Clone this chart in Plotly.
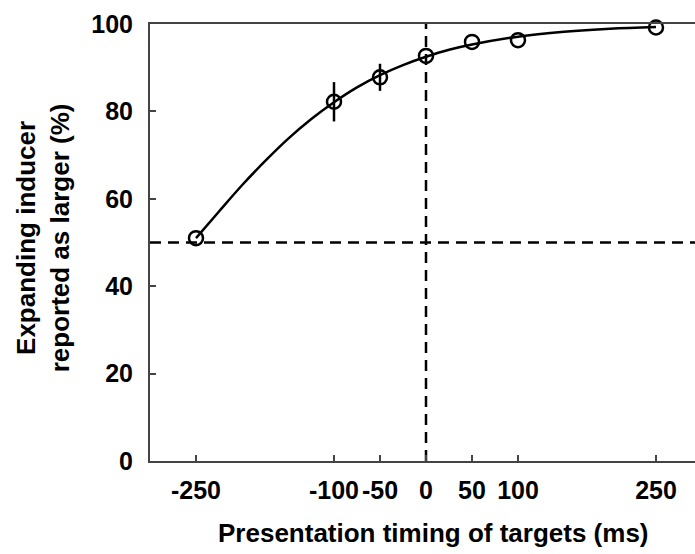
import plotly.graph_objects as go

# Observed proportions (mean and error) at each target timing
timing_ms = [-250, -100, -50, 0, 50, 100, 250]
pct_larger = [51.0, 82.2, 87.8, 92.7, 95.9, 96.3, 99.2]
pct_err = [0, 4.5, 3.1, 0, 0, 0, 0]

# Fitted psychometric curve
fit_x = [-250, -225, -200, -175, -150, -125, -100, -75, -50, -25, 0, 25, 50, 100, 150, 200, 250]
fit_y = [51.0, 57.1, 63.1, 68.6, 73.7, 78.2, 82.1, 85.5, 88.3, 90.6, 92.5, 94.1, 95.3, 97.1, 98.2, 98.9, 99.3]

x_ticks = [-250, -100, -50, 0, 50, 100, 250]
y_ticks = [0, 20, 40, 60, 80, 100]

FONT = "Liberation Sans, Arial, Helvetica, sans-serif"
AXIS_COLOR = "#444444"

fig = go.Figure()

# reference lines: chance level and simultaneous presentation
fig.add_shape(type="line", xref="x", yref="y", x0=-300, x1=292.4, y0=50, y1=50,
              line=dict(color="black", width=2.5, dash="11px,7px"), layer="below")
fig.add_shape(type="line", xref="x", yref="y", x0=0, x1=0, y0=0, y1=100,
              line=dict(color="black", width=2.5, dash="11px,7px"), layer="below")

fig.add_trace(go.Scatter(
    x=fit_x, y=fit_y, mode="lines", line=dict(color="black", width=2.5, shape="spline"),
    hoverinfo="skip", showlegend=False, cliponaxis=False,
))

fig.add_trace(go.Scatter(
    x=timing_ms, y=pct_larger, mode="markers", cliponaxis=False,
    marker=dict(symbol="circle-open", size=14, color="black", line=dict(width=2.5, color="black")),
    error_y=dict(type="data", array=pct_err, visible=True, color="black", thickness=2.5, width=0),
    showlegend=False,
))

fig.update_layout(
    width=695, height=554,
    margin=dict(l=150, r=0, t=24, b=93),
    plot_bgcolor="white", paper_bgcolor="white",
    font=dict(family=FONT, size=26, color="black", weight=700),
    xaxis=dict(
        range=[-300, 292.4], tickvals=x_ticks, ticktext=[str(v) for v in x_ticks],
        ticks="inside", ticklen=6, tickwidth=2, tickcolor=AXIS_COLOR,
        showline=True, linecolor=AXIS_COLOR, linewidth=2, mirror=True,
        showgrid=False, zeroline=False,
        tickfont=dict(family=FONT, size=25, color="black", weight=700),
        ticklabelstandoff=6,
    ),
    yaxis=dict(
        range=[0, 100], tickvals=y_ticks,
        ticks="inside", ticklen=6, tickwidth=2, tickcolor=AXIS_COLOR,
        showline=True, linecolor=AXIS_COLOR, linewidth=2,
        showgrid=False, zeroline=False,
        tickfont=dict(family=FONT, size=25, color="black", weight=700),
        ticklabelstandoff=10,
    ),
    annotations=[
        dict(text="Presentation timing of targets (ms)", xref="paper", yref="paper",
             x=0.521, y=-0.165, xanchor="center", yanchor="middle", showarrow=False,
             font=dict(family=FONT, size=26, color="black", weight=700)),
        dict(text="Expanding inducer<br>reported as larger (%)", xref="paper", yref="paper",
             x=-0.196, y=0.51, xanchor="center", yanchor="middle", textangle=-90,
             showarrow=False,
             font=dict(family=FONT, size=26, color="black", weight=700)),
    ],
)

fig.write_html("out.html")
